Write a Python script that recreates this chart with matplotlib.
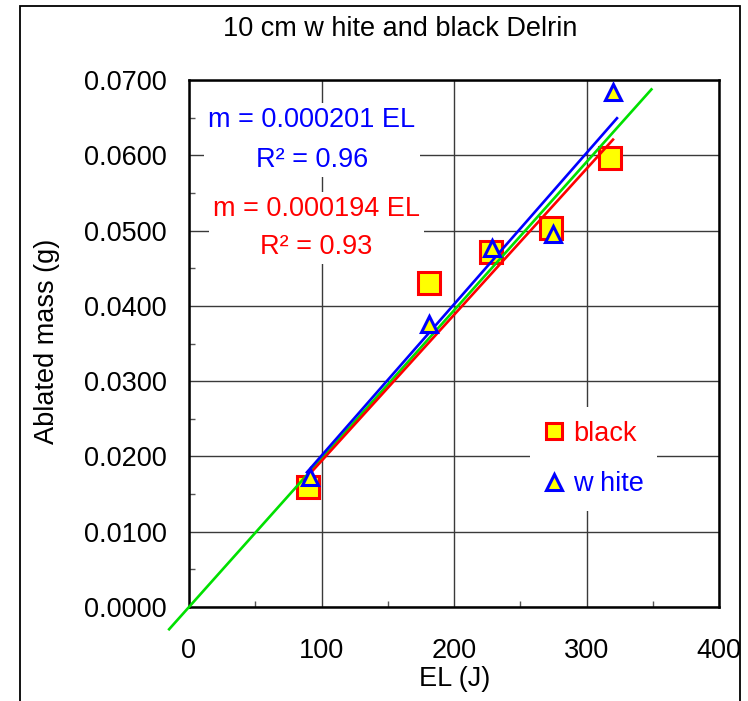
import matplotlib
matplotlib.use("Agg")
import matplotlib.pyplot as plt
from matplotlib.lines import Line2D
from matplotlib.patches import Rectangle
import numpy as np

plt.rcParams['font.family'] = ['Liberation Sans', 'DejaVu Sans']

# ---- data ----
black_x = [90, 181, 228, 273, 318]
black_y = [0.0160, 0.0431, 0.0471, 0.0504, 0.0597]
white_x = [91, 181, 229, 275, 320]
white_y = [0.0173, 0.0376, 0.0477, 0.0495, 0.0684]

slope_black = 0.000194
slope_white = 0.000201
slope_all = 0.000197
r2_black = 0.93
r2_white = 0.96
fit_black_range = [87, 320]
fit_white_range = [89, 323]
fit_all_range = [-15, 349]

x_ticks = [0, 100, 200, 300, 400]
y_ticks = [0.0, 0.01, 0.02, 0.03, 0.04, 0.05, 0.06, 0.07]

title = "10 cm w hite and black Delrin"
xlabel = "EL (J)"
ylabel = "Ablated mass (g)"

FS = 19.5
RED = '#ff0000'
BLUE = '#0000ff'
GREEN = '#00e000'
YEL = '#ffff00'

fig = plt.figure(figsize=(7.48, 7.01), dpi=100)
ax = fig.add_axes([189/748, 1-607/701, 530/748, 527/701])

ax.set_xlim(0, 400)
ax.set_ylim(0, 0.07)
ax.set_xticks(x_ticks)
ax.set_yticks(y_ticks)
ax.set_xticklabels([str(v) for v in x_ticks])
ax.set_yticklabels([f"{v:.4f}" for v in y_ticks])
ax.set_xticks(np.arange(50, 400, 100), minor=True)
ax.set_yticks(np.arange(0.005, 0.07, 0.01), minor=True)
ax.tick_params(axis='y', which='major', labelsize=FS, length=0, pad=16)
ax.tick_params(axis='x', which='major', labelsize=FS, length=0, pad=22)
ax.tick_params(axis='both', which='minor', direction='in', length=4, width=1, color='#555555')
ax.grid(True, which='major', color='#3a3a3a', linewidth=1.0)
ax.set_axisbelow(True)
for s in ax.spines.values():
    s.set_linewidth(1.8)
    s.set_color('black')

# markers
ax.plot(black_x, black_y, linestyle='none', marker='s', markersize=15.5,
        markerfacecolor=YEL, markeredgecolor=RED, markeredgewidth=2.2, zorder=3)

# fit lines
xb = np.array(fit_black_range)
xw = np.array(fit_white_range)
xa = np.array(fit_all_range)
ax.plot(xa, slope_all * xa, color=GREEN, linewidth=1.9, zorder=4, clip_on=False)
ax.plot(xb, slope_black * xb, color=RED, linewidth=1.9, zorder=4)
ax.plot(xw, slope_white * xw, color=BLUE, linewidth=1.9, zorder=4)

ax.plot(white_x, white_y, linestyle='none', marker='^', markersize=11,
        markerfacecolor=YEL, markeredgecolor=BLUE, markeredgewidth=2.2, zorder=5)

# annotations
ax.text(92.8, 0.0620, f"m = {slope_white:.6f} EL\nR² = {r2_white:.2f}", color=BLUE,
        fontsize=FS, ha='center', va='center', multialignment='center', linespacing=1.68,
        bbox=dict(facecolor='white', edgecolor='none', pad=3), zorder=6)
ax.text(96.2, 0.0503, f"m = {slope_black:.6f} EL\nR² = {r2_black:.2f}", color=RED,
        fontsize=FS, ha='center', va='center', multialignment='center', linespacing=1.6,
        bbox=dict(facecolor='white', edgecolor='none', pad=3), zorder=6)

# legend
h_black = Line2D([], [], linestyle='none', marker='s', markersize=11,
                 markerfacecolor=YEL, markeredgecolor=RED, markeredgewidth=2.2)
h_white = Line2D([], [], linestyle='none', marker='^', markersize=11,
                 markerfacecolor=YEL, markeredgecolor=BLUE, markeredgewidth=2.2)
leg = ax.legend([h_black, h_white], ["black", "w hite"], loc='center',
                bbox_to_anchor=(0.763, 0.281), fontsize=FS, frameon=True,
                facecolor='white', edgecolor='none', framealpha=1, fancybox=False,
                handlelength=0.8, handletextpad=0.3, labelspacing=0.9,
                borderpad=0.5)
leg.get_texts()[0].set_color(RED)
leg.get_texts()[1].set_color(BLUE)
leg.set_zorder(6)

fig.text(400/748, 1-29/701, title, fontsize=FS, ha='center', va='center')
fig.text(455/748, 1-679/701, xlabel, fontsize=FS, ha='center', va='center')
fig.text(47/748, 1-341/701, ylabel, fontsize=FS, ha='center', va='center', rotation=90)

# outer border
fig.add_artist(Rectangle((20/748, -0.02), 720/748, 1.02 - 6/701, transform=fig.transFigure,
                         fill=False, edgecolor='black', linewidth=1.3))

fig.savefig("out.png", dpi=100)
